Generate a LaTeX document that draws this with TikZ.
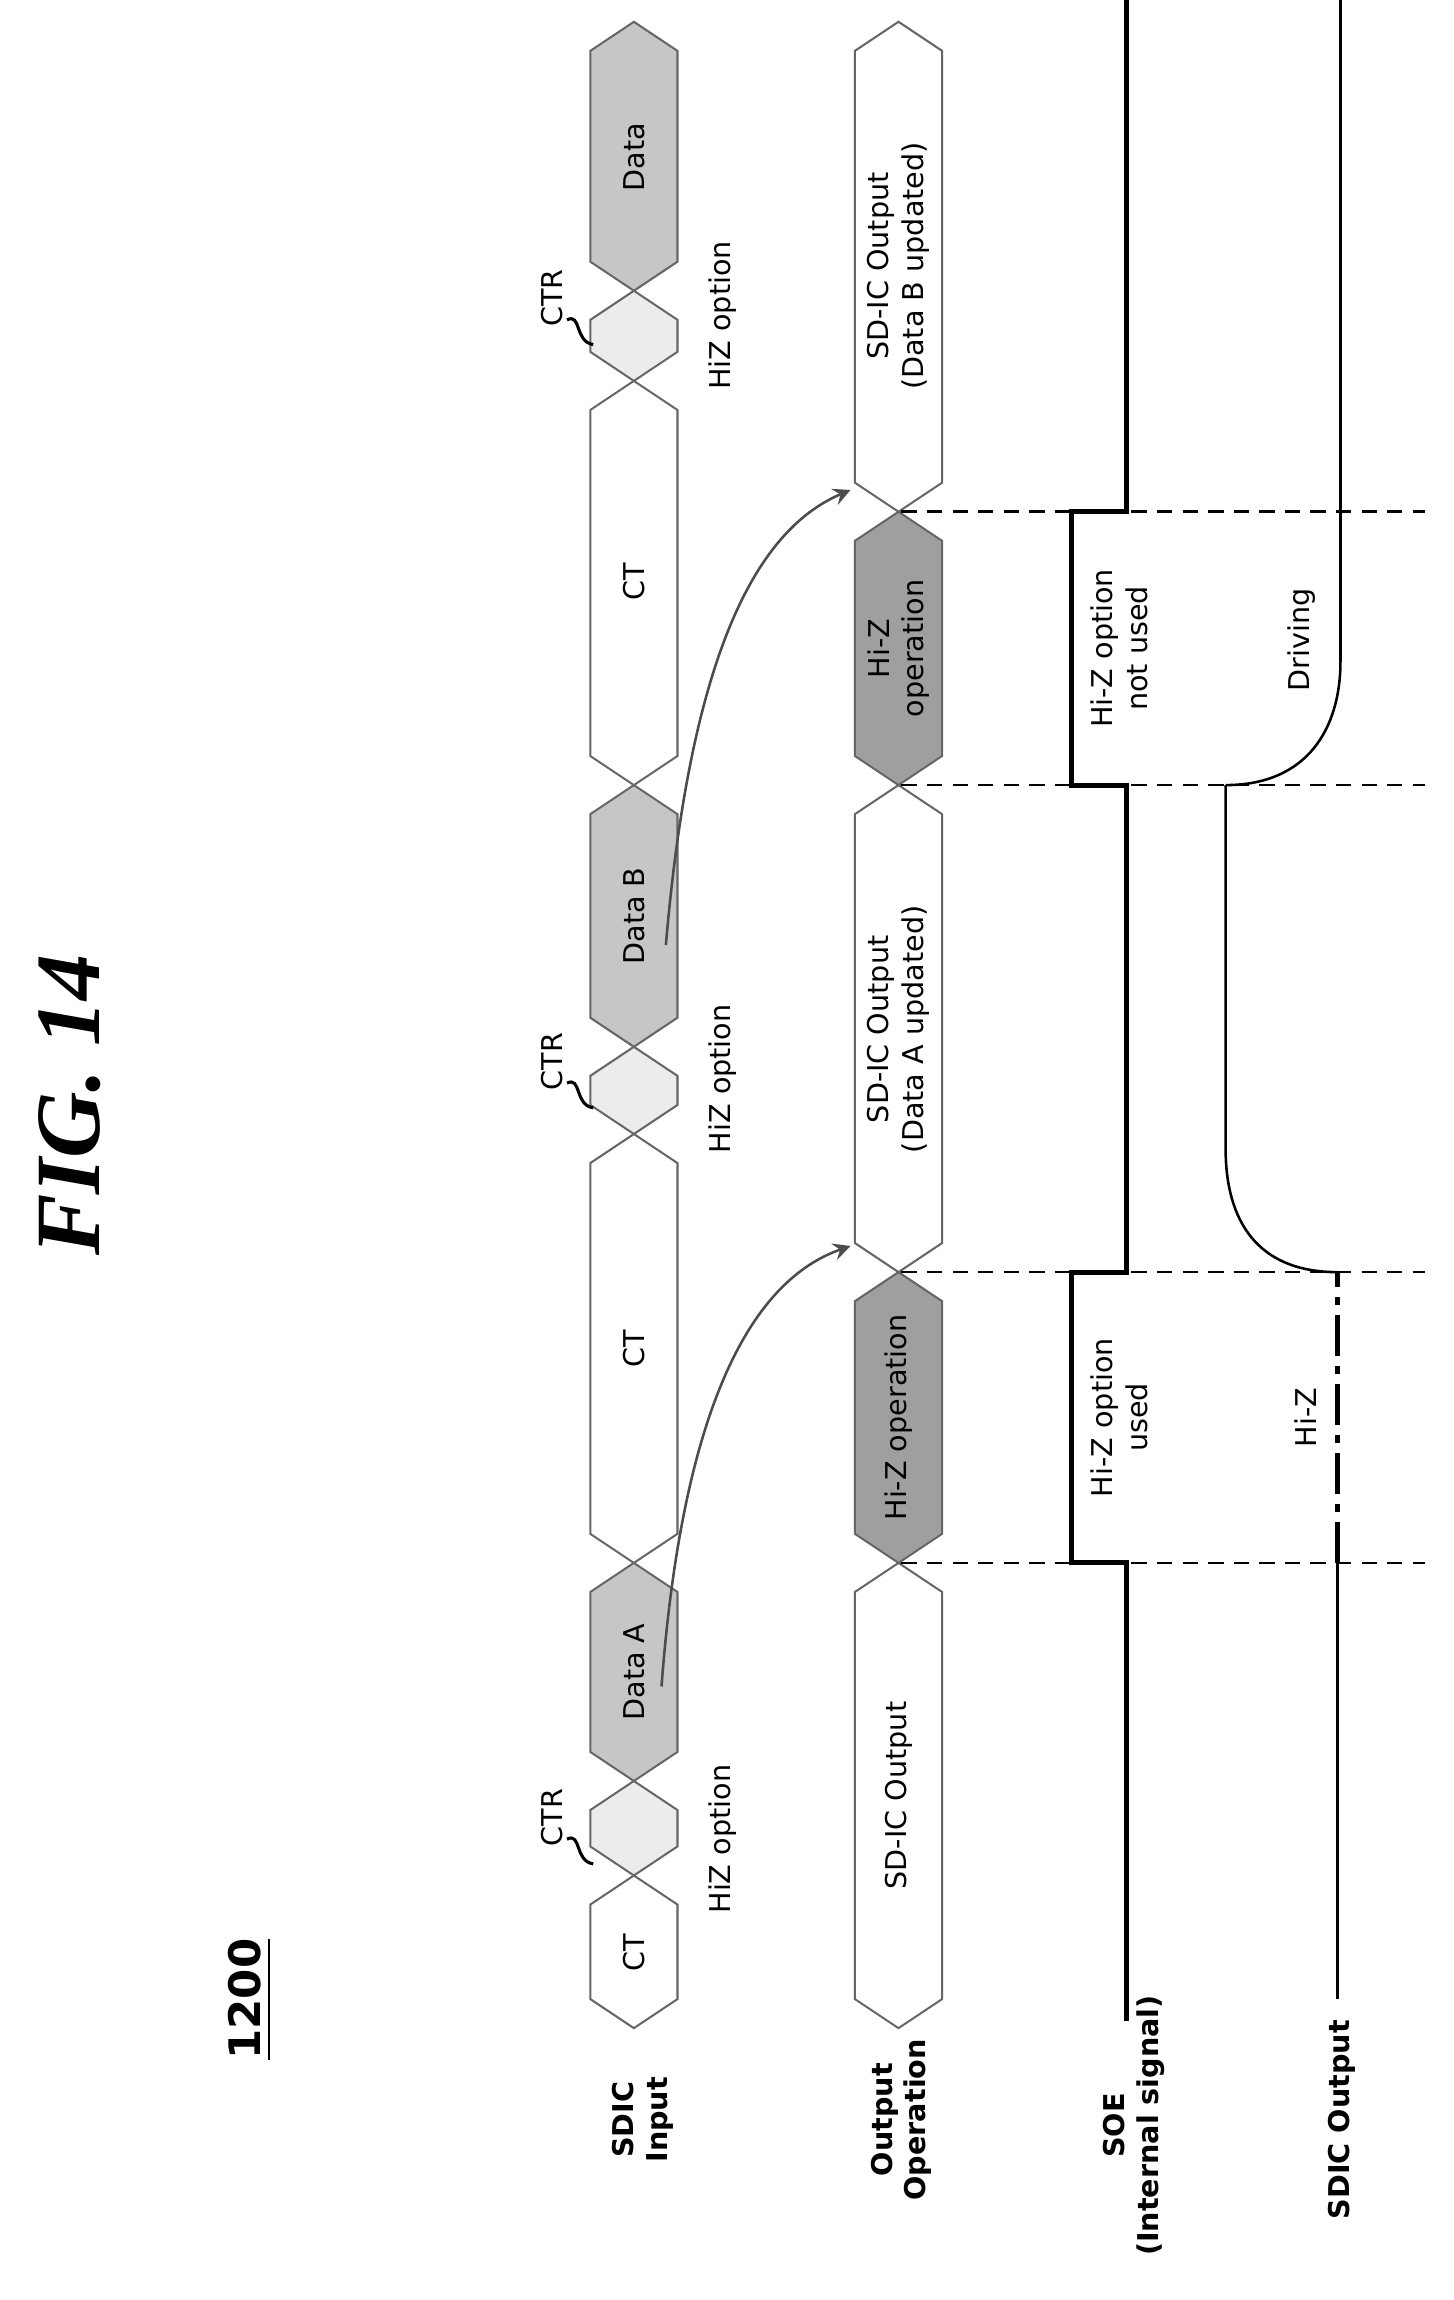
\documentclass[tikz,border=0pt]{standalone}
\usepackage{fontspec}
\setmainfont{DejaVu Sans}
\setsansfont{DejaVu Sans}
\setmonofont{DejaVu Sans Mono}
\newfontfamily\figfont{Liberation Serif}
\begin{document}
\begin{tikzpicture}[x=0.01cm,y=-0.01cm,
  bus/.style={draw=gray!80!black,line width=0.4pt},
  dat/.style={bus,fill=gray!45},
  ctr/.style={bus,fill=gray!15},
  hiz/.style={bus,fill=gray!75},
  plain/.style={bus,fill=white},
  lab/.style={rotate=90,font=\fontsize{5.6}{6.8}\selectfont,align=center,inner sep=0pt},
  rowlab/.style={rotate=90,font=\bfseries\fontsize{5.6}{6.6}\selectfont,align=center,inner sep=0pt},
  guide/.style={line width=0.5pt,dash pattern=on 3pt off 2pt},
  sig/.style={line width=1pt},
  arr/.style={->,>=stealth,gray!60!black,line width=0.5pt}]
\useasboundingbox (0,0) rectangle (1000,1582);
\newcommand\busseg[4]{\path[#4] (#1,#2) -- (#1+30,#2+20) -- (#1+30,#3-20) -- (#1,#3) -- (#1-30,#3-20) -- (#1-30,#2+20) -- cycle;}
% SDIC input row
\busseg{436}{1290}{1395}{plain}
\busseg{436}{1225}{1290}{ctr}
\busseg{436}{1075}{1225}{dat}
\busseg{436}{780}{1075}{plain}
\busseg{436}{720}{780}{ctr}
\busseg{436}{540}{720}{dat}
\busseg{436}{262}{540}{plain}
\busseg{436}{200}{262}{ctr}
\busseg{436}{15}{200}{dat}
\node[lab] (ct1) at (436,1343) {CT};
\node[lab] (da) at (436,1150) {Data A};
\node[lab] (ct2) at (436,928) {CT};
\node[lab] (db) at (436,630) {Data B};
\node[lab] (ct3) at (436,400) {CT};
\node[lab] (dd) at (436,108) {Data};
% CTR labels
\foreach \n/\yy in {c1/1250,c2/730,c3/205}{
  \node[lab] (\n) at (380,\yy) {CTR};
  \draw[line width=0.6pt] (390,\yy+15) .. controls (400,\yy+10) and (395,\yy+30) .. (408,\yy+32);
}
\node[lab] (h1) at (497,1265) {HiZ option};
\node[lab] (h2) at (497,742) {HiZ option};
\node[lab] (h3) at (497,217) {HiZ option};
% Output operation row
\busseg{618}{1075}{1395}{plain}
\busseg{618}{875}{1075}{hiz}
\busseg{618}{540}{875}{plain}
\busseg{618}{352}{540}{hiz}
\busseg{618}{15}{352}{plain}
\node[lab] (o1) at (618,1235) {SD-IC Output};
\node[lab] (z1) at (618,975) {Hi-Z operation};
\node[lab] (o2) at (618,708) {SD-IC Output\\(Data A updated)};
\node[lab] (z2) at (618,446) {Hi-Z\\operation};
\node[lab] (o3) at (618,183) {SD-IC Output\\(Data B updated)};
% arrows
\coordinate (a1s) at (455,1160);
\coordinate (a1e) at (585,857);
\coordinate (a2s) at (458,650);
\coordinate (a2e) at (585,337);
\draw[arr] (a1s) .. controls (470,960) and (520,880) .. (a1e);
\draw[arr] (a2s) .. controls (475,450) and (520,365) .. (a2e);
% dashed guides
\foreach \yy in {352,540,875,1075}{\draw[guide] (620,\yy) -- (980,\yy);}
% SOE
\draw[sig] (775,1390) -- (775,1075) -- (737,1075) -- (737,875) -- (775,875) -- (775,540) -- (737,540) -- (737,352) -- (775,352) -- (775,0);
\node[lab] (u1) at (770,975) {Hi-Z option\\used};
\node[lab] (u2) at (770,446) {Hi-Z option\\not used};
% SDIC output
\draw[line width=0.5pt] (920,1375) -- (920,1075);
\draw[line width=1pt,dash pattern=on 8pt off 2pt on 1.5pt off 2pt] (920,1075) -- (920,875);
\draw[line width=0.5pt] (920,875) .. controls (865,875) and (843,840) .. (843,790) -- (843,540);
\draw[line width=0.5pt] (843,540) .. controls (900,540) and (922,500) .. (922,455) -- (922,0);
\node[lab] (hz) at (898,975) {Hi-Z};
\node[lab] (dr) at (895,440) {Driving};
% row labels
\node[rowlab] (r1) at (442,1458) {SDIC\\Input};
\node[rowlab] (r2) at (620,1458) {Output\\Operation};
\node[rowlab] (r3) at (780,1462) {SOE\\(Internal signal)};
\node[rowlab] (r4) at (923,1458) {SDIC Output};
\node[rotate=90,font=\bfseries\fontsize{8.5}{10}\selectfont,inner sep=1pt] (num) at (172,1375) {\underline{1200}};
\node[rotate=90,font=\figfont\bfseries\itshape\fontsize{18}{22}\selectfont] (fig) at (48,760) {FIG. 14};
\end{tikzpicture}
\end{document}
